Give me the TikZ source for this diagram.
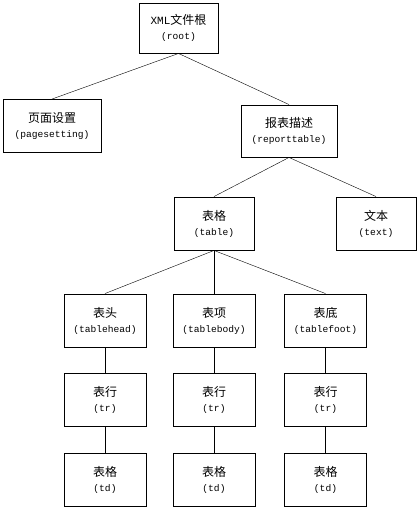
\documentclass[tikz,border=0pt]{standalone}
\usepackage{fontspec}
\newfontfamily\cjk{Noto Sans CJK SC}
\newfontfamily\mono{Liberation Mono}
\tikzset{
  box/.style={draw, line width=0.9pt, minimum height=53pt, align=center, inner sep=0pt,
    font=\mono\fontsize{9.6}{15}\selectfont},
}
\newcommand{\zh}[1]{{\cjk\fontsize{12}{15}\selectfont #1}}

\begin{document}
\begin{tikzpicture}[x=1pt, y=-1pt]
  \useasboundingbox (0,0) rectangle (419,509);

  \node[box, minimum width=79pt, minimum height=50pt] (root) at (178.5,28) {{\fontsize{11}{15}\selectfont XML}\zh{文件根}\\(root)};
  \node[box, minimum width=98pt] (page) at (52,126) {\zh{页面设置}\\(pagesetting)};
  \node[box, minimum width=96pt, minimum height=52pt] (report) at (289,131) {\zh{报表描述}\\(reporttable)};
  \node[box, minimum width=80pt] (table) at (214,223.5) {\zh{表格}\\(table)};
  \node[box, minimum width=80pt] (text) at (376,223.5) {\zh{文本}\\(text)};

  \draw (root.south) -- (page.north);
  \draw (root.south) -- (report.north);
  \draw (report.south) -- (table.north);
  \draw (report.south) -- (text.north);

  \foreach \x/\n/\zhname/\enname in {105/head/表头/tablehead, 214/body/表项/tablebody, 325.5/foot/表底/tablefoot} {
    \node[box, minimum width=82pt] (\n) at (\x,320.5) {\zh{\zhname}\\(\enname)};
    \node[box, minimum width=82pt] (tr\n) at (\x,399.5) {\zh{表行}\\(tr)};
    \node[box, minimum width=82pt] (td\n) at (\x,479.5) {\zh{表格}\\(td)};
    \draw (table.south) -- (\n.north);
    \draw (\n.south) -- (tr\n.north);
    \draw (tr\n.south) -- (td\n.north);
  }
\end{tikzpicture}
\end{document}
